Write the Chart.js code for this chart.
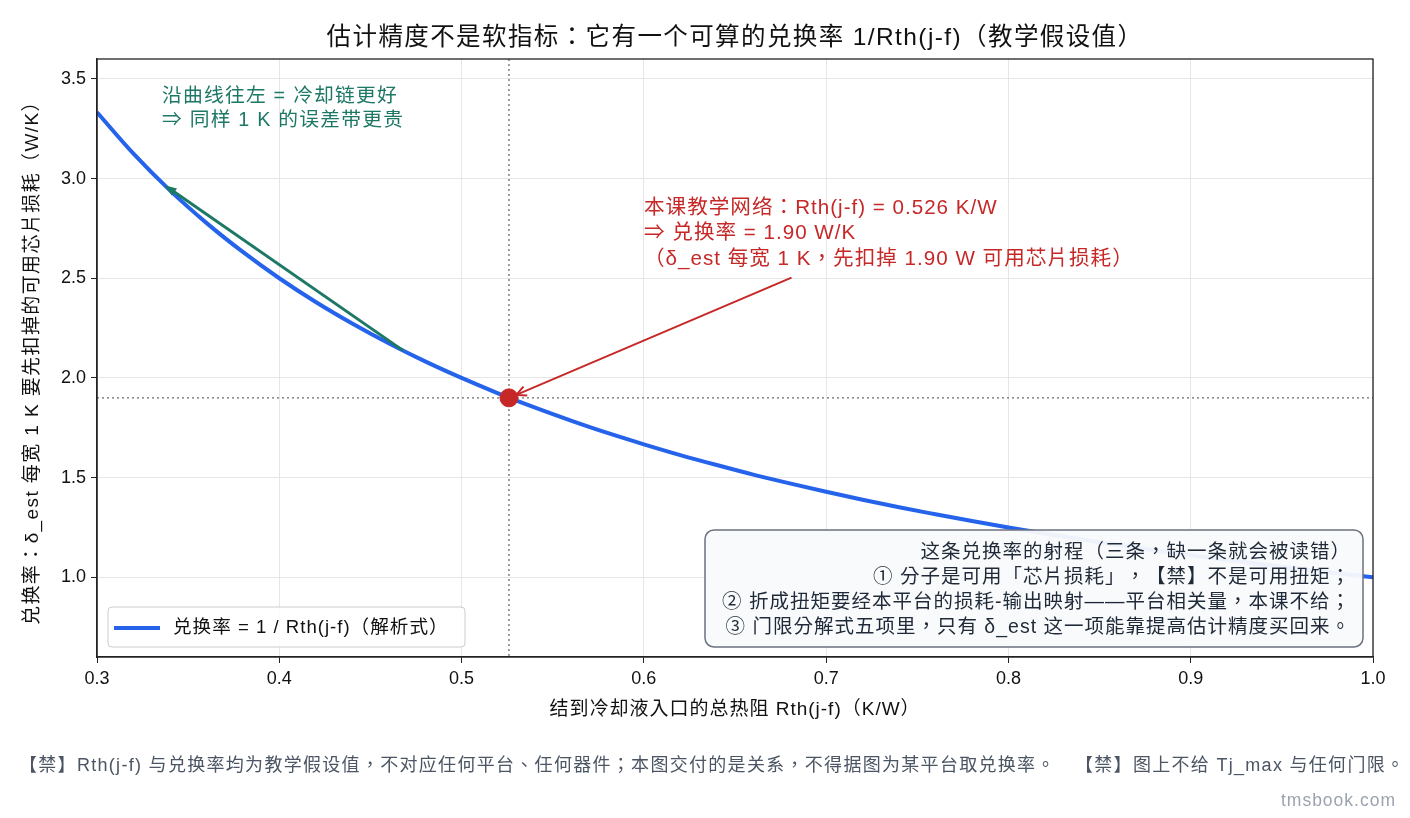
<!DOCTYPE html>
<html lang="zh-Hant">
<head>
<meta charset="utf-8">
<script src="https://cdn.jsdelivr.net/npm/chart.js@4/dist/chart.umd.min.js"></script>
<style>
  html, body { margin: 0; padding: 0; background: #fff; }
  #wrap { position: relative; width: 1410px; height: 818px; text-spacing-trim: space-all; }
  #title { position: absolute; left: 0; width: 1470px; top: 20px; line-height: 34px; text-align: center; white-space: nowrap;
    font-family: "Liberation Sans", "Noto Sans CJK TC", sans-serif; font-size: 24.5px; letter-spacing: 1.4px; color: #111; }
  #foot { position: absolute; left: 19px; top: 753px; line-height: 24px; white-space: nowrap;
    font-family: "Liberation Sans", "Noto Sans CJK TC", sans-serif; font-size: 18px; letter-spacing: 1.3px; color: #4b5563; }
  #mark { position: absolute; right: 14px; top: 788px; line-height: 24px; letter-spacing: 1px;
    font-family: "Liberation Sans", "Noto Sans CJK TC", sans-serif; font-size: 17.5px; color: #9ca3af; }
</style>
</head>
<body>
<div id="wrap">
  <canvas id="chart" width="1410" height="818"></canvas>
  <div id="title">估计精度不是软指标：它有一个可算的兑换率 1/Rth(j-f)（教学假设值）</div>
  <div id="foot">【禁】Rth(j-f) 与兑换率均为教学假设值，不对应任何平台、任何器件；本图交付的是关系，不得据图为某平台取兑换率。　【禁】图上不给 Tj_max 与任何门限。</div>
  <div id="mark">tmsbook.com</div>
</div>
<script>
  // values
  const rth = [0.30, 0.32, 0.34, 0.36, 0.38, 0.40, 0.42, 0.44, 0.46, 0.48,
    0.50, 0.52, 0.54, 0.56, 0.58, 0.60, 0.62, 0.64, 0.66, 0.68,
    0.70, 0.72, 0.74, 0.76, 0.78, 0.80, 0.82, 0.84, 0.86, 0.88,
    0.90, 0.92, 0.94, 0.96, 0.98, 1.00];
  const rate = [3.333, 3.125, 2.941, 2.778, 2.632, 2.500, 2.381, 2.273, 2.174, 2.083,
    2.000, 1.923, 1.852, 1.786, 1.724, 1.667, 1.613, 1.563, 1.515, 1.471,
    1.429, 1.389, 1.351, 1.316, 1.282, 1.250, 1.220, 1.190, 1.163, 1.136,
    1.111, 1.087, 1.064, 1.042, 1.020, 1.000];
  const xTicks = [0.3, 0.4, 0.5, 0.6, 0.7, 0.8, 0.9, 1.0];
  const yTicks = [1.0, 1.5, 2.0, 2.5, 3.0, 3.5];
  const courseRth = 0.526;
  const courseRate = 1.90;
  const greenArrow = { from: [0.468, 2.137], to: [0.337, 2.967] };
  const redArrow = { from: [0.681, 2.503], to: [0.530, 1.915] };

  const FONT = '"Liberation Sans", "Noto Sans CJK TC", sans-serif';
  const BLUE = "#2563eb";
  const RED = "#c62828";
  const GREEN = "#1d7866";

  function arrow(ctx, x1, y1, x2, y2, color, filled) {
    const a = Math.atan2(y2 - y1, x2 - x1);
    const len = filled ? 13 : 11;
    ctx.save();
    ctx.strokeStyle = color;
    ctx.fillStyle = color;
    ctx.lineWidth = filled ? 3 : 2;
    ctx.beginPath();
    ctx.moveTo(x1, y1);
    ctx.lineTo(filled ? x2 - Math.cos(a) * len * 0.8 : x2, filled ? y2 - Math.sin(a) * len * 0.8 : y2);
    ctx.stroke();
    ctx.beginPath();
    if (filled) {
      ctx.moveTo(x2, y2);
      ctx.lineTo(x2 - len * Math.cos(a - 0.35), y2 - len * Math.sin(a - 0.35));
      ctx.lineTo(x2 - len * Math.cos(a + 0.35), y2 - len * Math.sin(a + 0.35));
      ctx.closePath();
      ctx.fill();
    } else {
      ctx.moveTo(x2 - len * Math.cos(a - 0.45), y2 - len * Math.sin(a - 0.45));
      ctx.lineTo(x2, y2);
      ctx.lineTo(x2 - len * Math.cos(a + 0.45), y2 - len * Math.sin(a + 0.45));
      ctx.stroke();
    }
    ctx.restore();
  }

  function roundRect(ctx, x, y, w, h, r) {
    ctx.beginPath();
    ctx.moveTo(x + r, y);
    ctx.arcTo(x + w, y, x + w, y + h, r);
    ctx.arcTo(x + w, y + h, x, y + h, r);
    ctx.arcTo(x, y + h, x, y, r);
    ctx.arcTo(x, y, x + w, y, r);
    ctx.closePath();
  }

  function setFont(ctx, size, spacing) {
    ctx.font = size + "px " + FONT;
    ctx.letterSpacing = spacing + "px";
  }

  const decor = {
    id: "decor",
    beforeDatasetsDraw(chart) {
      const { ctx, chartArea: ca, scales: { x, y } } = chart;
      ctx.save();
      ctx.strokeStyle = "#6b6b6b";
      ctx.lineWidth = 1.3;
      ctx.setLineDash([2, 3]);
      const px = x.getPixelForValue(courseRth);
      const py = y.getPixelForValue(courseRate);
      ctx.beginPath();
      ctx.moveTo(px, ca.top); ctx.lineTo(px, ca.bottom);
      ctx.moveTo(ca.left, py); ctx.lineTo(ca.right, py);
      ctx.stroke();
      ctx.restore();
    },
    afterDatasetsDraw(chart) {
      const { ctx, chartArea: ca, scales: { x, y } } = chart;
      const P = p => [x.getPixelForValue(p[0]), y.getPixelForValue(p[1])];

      // plot frame
      ctx.save();
      ctx.strokeStyle = "#222";
      ctx.lineWidth = 1.3;
      ctx.strokeRect(ca.left, ca.top, ca.right - ca.left, ca.bottom - ca.top);
      ctx.restore();

      const g1 = P(greenArrow.from), g2 = P(greenArrow.to);
      arrow(ctx, g1[0], g1[1], g2[0], g2[1], GREEN, true);
      const r1 = P(redArrow.from), r2 = P(redArrow.to);
      arrow(ctx, r1[0], r1[1], r2[0], r2[1], RED, false);

      ctx.save();
      ctx.textBaseline = "middle";
      ctx.textAlign = "left";
      setFont(ctx, 19.8, 1.2);
      ctx.fillStyle = GREEN;
      ctx.fillText("沿曲线往左 = 冷却链更好", 162, 97);
      ctx.fillText("⇒ 同样 1 K 的误差带更贵", 162, 121);

      setFont(ctx, 20.6, 1);
      ctx.fillStyle = RED;
      ctx.fillText("本课教学网络：Rth(j-f) = 0.526 K/W", 644, 208);
      ctx.fillText("⇒ 兑换率 = 1.90 W/K", 644, 233);
      ctx.fillText("（δ_est 每宽 1 K，先扣掉 1.90 W 可用芯片损耗）", 644, 259);

      // info box
      roundRect(ctx, 705, 530, 658, 117, 9);
      ctx.fillStyle = "rgba(248,250,252,0.95)";
      ctx.fill();
      ctx.strokeStyle = "#6b7280";
      ctx.lineWidth = 1.5;
      ctx.stroke();
      ctx.fillStyle = "#1f2937";
      setFont(ctx, 19.5, 1);
      ctx.textAlign = "right";
      ctx.fillText("这条兑换率的射程（三条，缺一条就会被读错）", 1351, 553);
      ctx.fillText("① 分子是可用「芯片损耗」，【禁】不是可用扭矩；", 1351, 578);
      ctx.fillText("② 折成扭矩要经本平台的损耗-输出映射——平台相关量，本课不给；", 1351, 603);
      ctx.fillText("③ 门限分解式五项里，只有 δ_est 这一项能靠提高估计精度买回来。", 1351, 628);

      // legend
      ctx.textAlign = "left";
      roundRect(ctx, 108, 607, 357, 40, 4);
      ctx.fillStyle = "rgba(255,255,255,0.85)";
      ctx.fill();
      ctx.strokeStyle = "#cccccc";
      ctx.lineWidth = 1;
      ctx.stroke();
      ctx.strokeStyle = BLUE;
      ctx.lineWidth = 4;
      ctx.beginPath();
      ctx.moveTo(114, 628); ctx.lineTo(160, 628);
      ctx.stroke();
      ctx.fillStyle = "#111";
      setFont(ctx, 18.6, 1);
      ctx.fillText("兑换率 = 1 / Rth(j-f)（解析式）", 173, 628);

      // axis titles
      ctx.textAlign = "center";
      setFont(ctx, 19, 1);
      ctx.fillText("结到冷却液入口的总热阻 Rth(j-f)（K/W）", (ca.left + ca.right) / 2, 710);
      ctx.translate(33, (ca.top + ca.bottom) / 2);
      ctx.rotate(-Math.PI / 2);
      setFont(ctx, 19, 1.4);
      ctx.fillText("兑换率：δ_est 每宽 1 K 要先扣掉的可用芯片损耗（W/K）", 0, 0);
      ctx.restore();
    }
  };

  const ctx = document.getElementById("chart").getContext("2d");
  new Chart(ctx, {
    type: "scatter",
    data: {
      datasets: [
        {
          label: "本课教学网络",
          data: [{ x: courseRth, y: courseRate }],
          backgroundColor: RED,
          borderColor: RED,
          pointRadius: 9,
          order: 0
        },
        {
          label: "兑换率 = 1 / Rth(j-f)（解析式）",
          data: rth.map((v, i) => ({ x: v, y: rate[i] })),
          showLine: true,
          borderColor: BLUE,
          borderWidth: 4,
          pointRadius: 0,
          cubicInterpolationMode: "monotone",
          order: 1
        }
      ]
    },
    options: {
      responsive: false,
      animation: false,
      layout: { padding: { top: 59, right: 37, bottom: 100, left: 0 } },
      plugins: { legend: { display: false }, tooltip: { enabled: false }, title: { display: false } },
      scales: {
        x: {
          type: "linear",
          min: 0.3,
          max: 1.0,
          afterBuildTicks: s => { s.ticks = xTicks.map(v => ({ value: v })); },
          afterFit: s => { s.height = 61; },
          ticks: { color: "#111", font: { size: 18, family: FONT }, padding: 5,
            callback: v => v.toFixed(1) },
          grid: { color: "#e6e6e6", tickColor: "#222", tickLength: 6, lineWidth: 1 },
          border: { color: "#222", width: 1.3 }
        },
        y: {
          min: 0.6,
          max: 3.6,
          afterBuildTicks: s => { s.ticks = yTicks.map(v => ({ value: v })); },
          afterFit: s => { s.width = 97; },
          ticks: { color: "#111", font: { size: 18, family: FONT }, padding: 5,
            callback: v => v.toFixed(1) },
          grid: { color: "#e6e6e6", tickColor: "#222", tickLength: 6, lineWidth: 1 },
          border: { color: "#222", width: 1.3 }
        }
      }
    },
    plugins: [decor]
  });
</script>
</body>
</html>
